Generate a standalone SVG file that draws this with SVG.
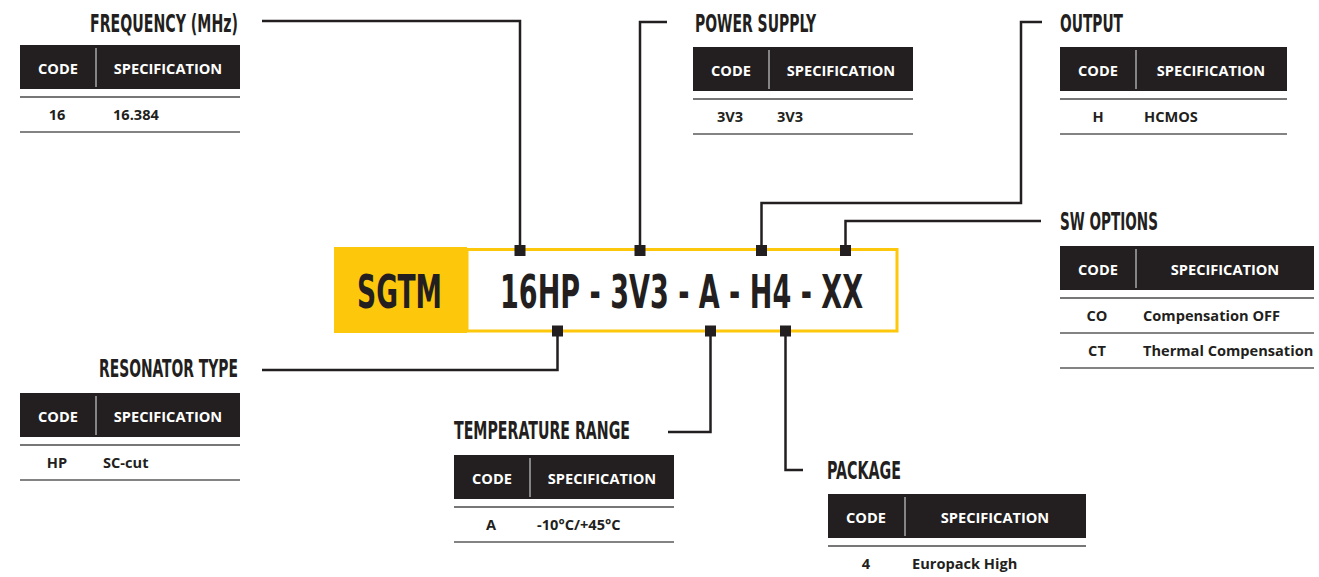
<svg xmlns="http://www.w3.org/2000/svg" width="1319" height="577" viewBox="0 0 1319 577">
<style>
.ttl{font-family:"Liberation Sans Narrow","DejaVu Sans Condensed","Liberation Sans",sans-serif;font-weight:700;font-size:24px;fill:#231f20}
.big{font-family:"Liberation Sans Narrow","DejaVu Sans Condensed","Liberation Sans",sans-serif;font-weight:700;font-size:46px;fill:#231f20}
.hd{fill:#231f20}
.hdt{font-family:"Open Sans","Noto Sans",sans-serif;font-weight:700;font-size:14.6px;fill:#ffffff}
.cell{font-family:"Open Sans","Noto Sans",sans-serif;font-weight:700;font-size:14.6px;fill:#231f20}
.div{stroke:#a8a8a8;stroke-width:1.5}
.ln1{stroke:#777777;stroke-width:2}
.ln2{stroke:#5a5a5a;stroke-width:1.5}
.con{fill:none;stroke:#231f20;stroke-width:2.5}
.mk{fill:#231f20}
</style>

<g id="connectors">
<path class="con" d="M262 21 H520 V250"/>
<path class="con" d="M640 250 V22 H667"/>
<path class="con" d="M761.5 250 V203 H1021 V22 H1042"/>
<path class="con" d="M845.5 250 V221 H1041"/>
<path class="con" d="M557.5 331 V370 H262"/>
<path class="con" d="M710.5 331 V432 H668"/>
<path class="con" d="M785.5 331 V470 H803"/>
</g>

<g id="part-number">
<rect x="334" y="247" width="133" height="86" fill="#fdc70c"/>
<rect x="467" y="249.5" width="430" height="81.5" fill="#ffffff" stroke="#fdc70c" stroke-width="3"/>
<text class="big" x="357" y="308" textLength="85" lengthAdjust="spacingAndGlyphs">SGTM</text>
<text class="big" x="500" y="308" textLength="363" lengthAdjust="spacingAndGlyphs">16HP - 3V3 - A - H4 - XX</text>
<rect class="mk" x="514.5" y="245" width="11" height="11"/>
<rect class="mk" x="634.5" y="245" width="11" height="11"/>
<rect class="mk" x="756" y="245" width="11" height="11"/>
<rect class="mk" x="840" y="245" width="11" height="11"/>
<rect class="mk" x="552" y="325.5" width="11" height="11"/>
<rect class="mk" x="705" y="325.5" width="11" height="11"/>
<rect class="mk" x="780" y="325.5" width="11" height="11"/>
</g>

<g id="frequency">
<text class="ttl" x="238" y="32" text-anchor="end" textLength="148" lengthAdjust="spacingAndGlyphs">FREQUENCY (MHz)</text>
<rect class="hd" x="20" y="45" width="220" height="44"/>
<line class="div" x1="96" y1="48" x2="96" y2="87"/>
<text class="hdt" x="58" y="74" text-anchor="middle">CODE</text>
<text class="hdt" x="168" y="74" text-anchor="middle">SPECIFICATION</text>
<line class="ln1" x1="20" y1="97" x2="240" y2="97"/>
<text class="cell" x="57" y="120" text-anchor="middle">16</text>
<text class="cell" x="113" y="120">16.384</text>
<line class="ln2" x1="20" y1="132" x2="240" y2="132"/>
</g>

<g id="power-supply">
<text class="ttl" x="695" y="32" textLength="121" lengthAdjust="spacingAndGlyphs">POWER SUPPLY</text>
<rect class="hd" x="693" y="47" width="220" height="44"/>
<line class="div" x1="769" y1="50" x2="769" y2="89"/>
<text class="hdt" x="731" y="76" text-anchor="middle">CODE</text>
<text class="hdt" x="841" y="76" text-anchor="middle">SPECIFICATION</text>
<line class="ln1" x1="693" y1="99" x2="913" y2="99"/>
<text class="cell" x="730" y="122" text-anchor="middle">3V3</text>
<text class="cell" x="777" y="122">3V3</text>
<line class="ln2" x1="693" y1="134" x2="913" y2="134"/>
</g>

<g id="output">
<text class="ttl" x="1060" y="32" textLength="63" lengthAdjust="spacingAndGlyphs">OUTPUT</text>
<rect class="hd" x="1060" y="47" width="227" height="44"/>
<line class="div" x1="1136" y1="50" x2="1136" y2="89"/>
<text class="hdt" x="1098" y="76" text-anchor="middle">CODE</text>
<text class="hdt" x="1211" y="76" text-anchor="middle">SPECIFICATION</text>
<line class="ln1" x1="1060" y1="99" x2="1287" y2="99"/>
<text class="cell" x="1098" y="122" text-anchor="middle">H</text>
<text class="cell" x="1144" y="122">HCMOS</text>
<line class="ln2" x1="1060" y1="134" x2="1287" y2="134"/>
</g>

<g id="sw-options">
<text class="ttl" x="1060" y="230" textLength="98" lengthAdjust="spacingAndGlyphs">SW OPTIONS</text>
<rect class="hd" x="1060" y="246" width="254" height="44"/>
<line class="div" x1="1136" y1="249" x2="1136" y2="288"/>
<text class="hdt" x="1098" y="275" text-anchor="middle">CODE</text>
<text class="hdt" x="1225" y="275" text-anchor="middle">SPECIFICATION</text>
<line class="ln1" x1="1060" y1="298" x2="1314" y2="298"/>
<text class="cell" x="1097" y="321" text-anchor="middle">CO</text>
<text class="cell" x="1143" y="321">Compensation OFF</text>
<line class="ln2" x1="1060" y1="333" x2="1314" y2="333"/>
<text class="cell" x="1097" y="356" text-anchor="middle">CT</text>
<text class="cell" x="1143" y="356">Thermal Compensation</text>
<line class="ln2" x1="1060" y1="368" x2="1314" y2="368"/>
</g>

<g id="resonator-type">
<text class="ttl" x="238" y="377" text-anchor="end" textLength="139" lengthAdjust="spacingAndGlyphs">RESONATOR TYPE</text>
<rect class="hd" x="20" y="393" width="220" height="44"/>
<line class="div" x1="96" y1="396" x2="96" y2="435"/>
<text class="hdt" x="58" y="422" text-anchor="middle">CODE</text>
<text class="hdt" x="168" y="422" text-anchor="middle">SPECIFICATION</text>
<line class="ln1" x1="20" y1="445" x2="240" y2="445"/>
<text class="cell" x="57" y="468" text-anchor="middle">HP</text>
<text class="cell" x="103" y="468">SC-cut</text>
<line class="ln2" x1="20" y1="480" x2="240" y2="480"/>
</g>

<g id="temperature-range">
<text class="ttl" x="454" y="439" textLength="176" lengthAdjust="spacingAndGlyphs">TEMPERATURE RANGE</text>
<rect class="hd" x="454" y="455" width="220" height="44"/>
<line class="div" x1="530" y1="458" x2="530" y2="497"/>
<text class="hdt" x="492" y="484" text-anchor="middle">CODE</text>
<text class="hdt" x="602" y="484" text-anchor="middle">SPECIFICATION</text>
<line class="ln1" x1="454" y1="507" x2="674" y2="507"/>
<text class="cell" x="491" y="530" text-anchor="middle">A</text>
<text class="cell" x="537" y="530">-10°C/+45°C</text>
<line class="ln2" x1="454" y1="542" x2="674" y2="542"/>
</g>

<g id="package">
<text class="ttl" x="827" y="479" textLength="74" lengthAdjust="spacingAndGlyphs">PACKAGE</text>
<rect class="hd" x="828" y="494" width="258" height="44"/>
<line class="div" x1="905" y1="497" x2="905" y2="536"/>
<text class="hdt" x="866" y="523" text-anchor="middle">CODE</text>
<text class="hdt" x="995" y="523" text-anchor="middle">SPECIFICATION</text>
<line class="ln1" x1="828" y1="546" x2="1086" y2="546"/>
<text class="cell" x="866" y="569" text-anchor="middle">4</text>
<text class="cell" x="912" y="569">Europack High</text>
</g>
</svg>
